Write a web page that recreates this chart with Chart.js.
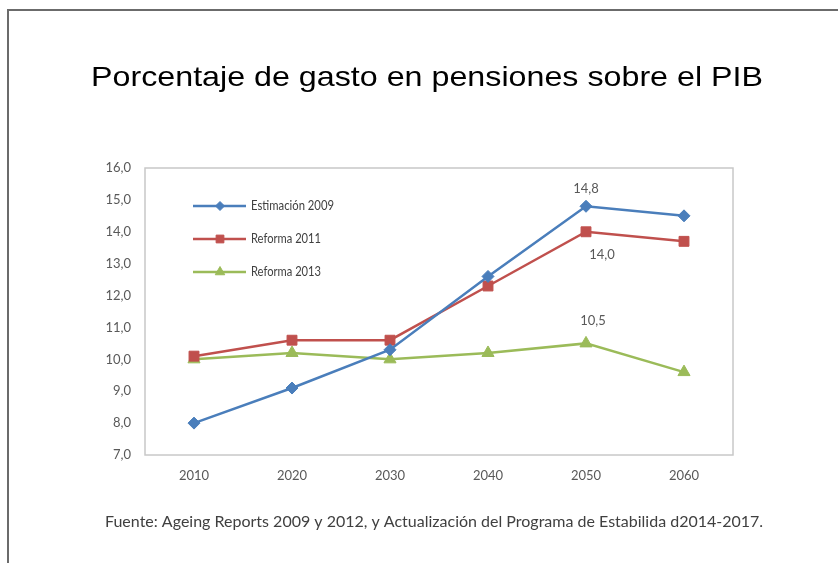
<!DOCTYPE html>
<html lang="es">
<head>
  <meta charset="UTF-8">
  <title>Porcentaje de gasto en pensiones sobre el PIB</title>
  <script src="https://cdn.jsdelivr.net/npm/chart.js"></script>
  <style>
    html, body { margin: 0; padding: 0; background: #fff; }
    #wrap { position: relative; width: 838px; height: 563px; }
  </style>
</head>
<body>
<div id="wrap">
  <canvas id="pensionChart" width="838" height="563"></canvas>
</div>

<script>
  // data
  const years = ['2010', '2020', '2030', '2040', '2050', '2060'];
  const estimacion2009 = [8.0, 9.1, 10.3, 12.6, 14.8, 14.5];
  const reforma2011 = [10.1, 10.6, 10.6, 12.3, 14.0, 13.7];
  const reforma2013 = [10.0, 10.2, 10.0, 10.2, 10.5, 9.6];
  const seriesNames = ['Estimación 2009', 'Reforma 2011', 'Reforma 2013'];
  const yMin = 7, yMax = 16, yStep = 1;

  const titleText = 'Porcentaje de gasto en pensiones sobre el PIB';
  const sourceText = 'Fuente: Ageing Reports 2009 y 2012, y Actualización del Programa de Estabilida d2014-2017.';

  // which point gets a value label: [dataset, index, dy, dx]
  const valueLabels = [[0, 4, -17, 0], [1, 4, 23, 16], [2, 4, -23, 7]];

  const fmt = v => v.toFixed(1).replace('.', ',');
  const gray = '#595959';

  // draw text stretched horizontally so it covers the given width
  function fitText(c, text, x, y, target) {
    const w = c.measureText(text).width;
    c.save();
    c.translate(x, y);
    c.scale(target / w, 1);
    c.fillText(text, 0, 0);
    c.restore();
  }

  const decor = {
    id: 'decor',
    beforeDraw(chart) {
      const c = chart.ctx;
      c.save();
      // outer frame (top and left edges only visible)
      c.strokeStyle = '#6b6b6b';
      c.lineWidth = 2;
      c.beginPath();
      c.moveTo(8, 563);
      c.lineTo(8, 10);
      c.lineTo(838, 10);
      c.stroke();
      // title
      c.fillStyle = '#000';
      c.font = '28.5px "Liberation Sans", Arial, sans-serif';
      c.textAlign = 'left';
      c.textBaseline = 'alphabetic';
      fitText(c, titleText, 91, 86, 672);
      // source
      c.fillStyle = '#404040';
      c.font = '16px Lato, sans-serif';
      c.textBaseline = 'middle';
      c.fillText(sourceText, 105, 522);
      // plot border
      const a = chart.chartArea;
      c.strokeStyle = '#c8c8c8';
      c.lineWidth = 1.5;
      c.strokeRect(a.left, a.top, a.right - a.left, a.bottom - a.top);
      c.restore();
    },
    afterDatasetsDraw(chart) {
      const c = chart.ctx;
      c.save();
      c.font = '13px Lato, sans-serif';
      c.fillStyle = gray;
      c.textAlign = 'center';
      c.textBaseline = 'middle';
      valueLabels.forEach(([ds, i, dy, dx]) => {
        const pt = chart.getDatasetMeta(ds).data[i];
        const v = chart.data.datasets[ds].data[i];
        c.fillText(fmt(v), pt.x + dx, pt.y + dy);
      });
      // legend inside the plot
      c.font = '12.5px Lato, sans-serif';
      chart.data.datasets.forEach((d, k) => {
        const y = 206 + k * 33;
        c.strokeStyle = d.borderColor;
        c.lineWidth = 2.5;
        c.beginPath();
        c.moveTo(193, y);
        c.lineTo(246, y);
        c.stroke();
        c.fillStyle = d.borderColor;
        c.lineWidth = 1;
        Chart.helpers.drawPoint(c, {
          pointStyle: d.pointStyle, radius: d.pointRadius - 1.5, borderWidth: 1
        }, 220, y);
        c.fillStyle = '#404040';
        c.textAlign = 'left';
        fitText(c, d.label, 251, y, [83, 70, 70][k]);
      });
      c.restore();
    }
  };

  const mkSet = (label, data, color, style, r) => ({
    label, data,
    borderColor: color,
    backgroundColor: color,
    borderWidth: 2.5,
    pointStyle: style,
    pointRadius: r,
    pointHoverRadius: r,
    pointBorderWidth: 1,
    tension: 0
  });

  new Chart(document.getElementById('pensionChart'), {
    type: 'line',
    data: {
      labels: years,
      datasets: [
        mkSet(seriesNames[0], estimacion2009, '#4a7ebb', 'rectRot', 6),
        mkSet(seriesNames[1], reforma2011, '#c0504d', 'rect', 7),
        mkSet(seriesNames[2], reforma2013, '#9bbb59', 'triangle', 7)
      ]
    },
    options: {
      responsive: false,
      animation: false,
      layout: { padding: { left: 0, right: 105, top: 168, bottom: 78 } },
      plugins: { legend: { display: false }, tooltip: { enabled: false } },
      scales: {
        x: {
          offset: true,
          grid: { display: false, drawTicks: false },
          border: { display: false },
          ticks: { color: gray, font: { family: 'Lato', size: 13 }, padding: 13 },
          afterFit(s) { s.height = 30; }
        },
        y: {
          min: yMin, max: yMax,
          grid: { display: false, drawTicks: false },
          border: { display: false },
          ticks: {
            stepSize: yStep,
            color: gray,
            font: { family: 'Lato', size: 13 },
            padding: 14,
            callback: v => fmt(v)
          },
          afterFit(s) { s.width = 145; }
        }
      }
    },
    plugins: [decor]
  });
</script>
</body>
</html>
